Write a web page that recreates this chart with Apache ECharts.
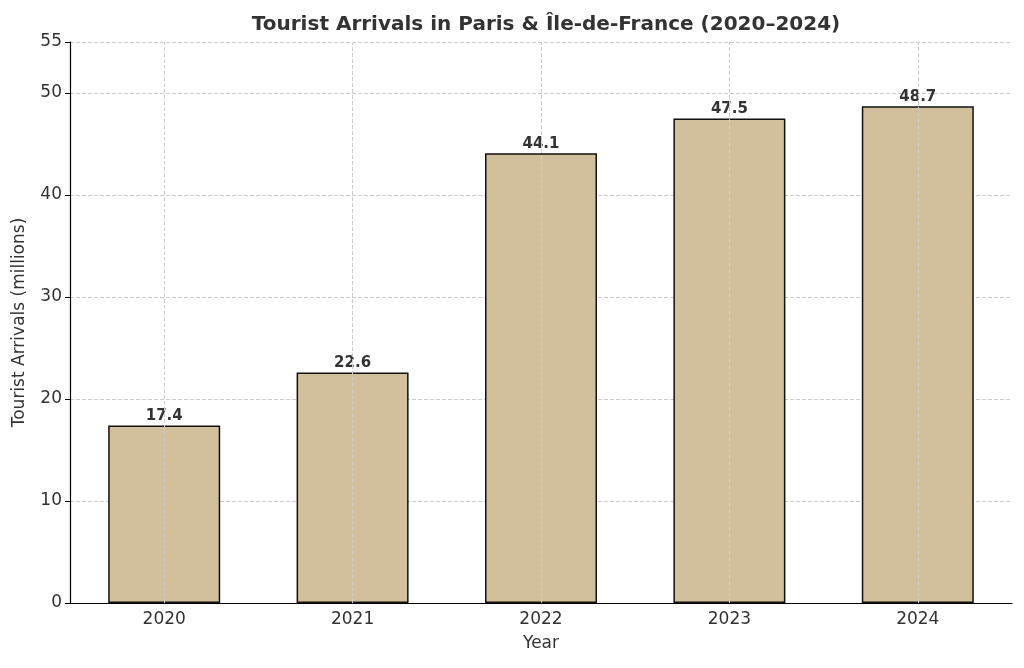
<!DOCTYPE html>
<html>
<head>
<meta charset="utf-8">
<script src="https://cdn.jsdelivr.net/npm/echarts@6/dist/echarts.min.js"></script>
<style>html,body{margin:0;background:#fff}#chart{width:1024px;height:668px}</style>
</head>
<body>
<div id="chart"></div>
<script>
var years = ['2020', '2021', '2022', '2023', '2024'];
var arrivals = [17.4, 22.6, 44.1, 47.5, 48.7];

var chart = echarts.init(document.getElementById('chart'));
var font = 'DejaVu Sans';
chart.setOption({
    animation: false,
    textStyle: {fontFamily: font},
    title: {
        text: 'Tourist Arrivals in Paris & Île-de-France (2020–2024)',
        left: 541, top: 10, textAlign: 'center',
        textStyle: {fontSize: 20, fontWeight: 'bold', color: '#333', fontFamily: font}
    },
    grid: {left: 70, right: 12, top: 42, bottom: 65},
    xAxis: {
        type: 'category', data: years,
        name: 'Year', nameLocation: 'middle', nameGap: 32,
        nameTextStyle: {fontSize: 17, color: '#333'},
        axisLine: {lineStyle: {color: '#000', width: 1.2}},
        axisTick: {alignWithLabel: true, length: 5, lineStyle: {color: '#000'}},
        axisLabel: {fontSize: 17, color: '#333', margin: 8},
        splitLine: {show: false}
    },
    yAxis: {
        type: 'value', min: 0, max: 55, interval: 10,
        name: 'Tourist Arrivals (millions)', nameLocation: 'middle', nameGap: 42,
        nameTextStyle: {fontSize: 17, color: '#333'},
        axisLine: {show: true, lineStyle: {color: '#000', width: 1.2}},
        axisTick: {show: true, length: 5, lineStyle: {color: '#000'}},
        axisLabel: {fontSize: 17, color: '#333', margin: 8},
        splitLine: {lineStyle: {color: '#ccc', type: 'dashed'}}
    },
    series: [{
        type: 'bar', data: arrivals, barWidth: 112,
        itemStyle: {color: '#d2bf9b', borderColor: '#111', borderWidth: 1.5},
        label: {show: true, position: 'top', distance: 2, fontSize: 15, fontWeight: 'bold', color: '#333'},
        markLine: {
            silent: true, symbol: 'none', label: {show: false},
            lineStyle: {color: '#ccc', type: 'dashed', width: 1},
            data: years.map(function (y) { return {xAxis: y}; })
        },
        z: 1
    }]
});
</script>
</body>
</html>
